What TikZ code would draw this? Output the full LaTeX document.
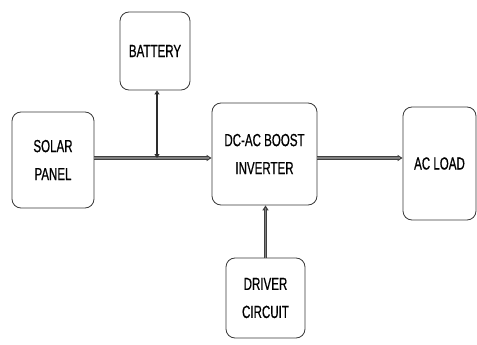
\documentclass[tikz,border=0pt]{standalone}
\usepackage{fontspec}
\setmainfont{Liberation Sans}[FakeStretch=0.66,FakeBold=0.6]
\usetikzlibrary{arrows.meta}

\begin{document}
\begin{tikzpicture}[x=1pt,y=-1pt,
  blockbox/.style={draw=gray!45!black,line width=0.8pt,rounded corners=9pt,fill=white,
    font=\fontsize{17.5}{28}\selectfont,align=center,inner sep=0pt},
  busline/.style={draw=gray!50!black,line width=4.5pt,-{Triangle[length=5pt,width=6pt]}},
  busfill/.style={draw=gray,line width=2pt,shorten >=3pt},
  tapline/.style={draw=gray!35!black,line width=2.6pt,{Triangle[length=4pt,width=5pt]}-{Triangle[length=4pt,width=5pt]}}]
\useasboundingbox (0,0) rectangle (477,345);
\node[blockbox,minimum width=70pt,minimum height=78pt] (battery) at (155,51) {BATTERY};
\node[blockbox,minimum width=82pt,minimum height=96pt] (solar) at (53,160) {SOLAR\\PANEL};
\node[blockbox,minimum width=105pt,minimum height=102pt] (inverter) at (264.5,154) {DC-AC BOOST\\INVERTER};
\node[blockbox,minimum width=73pt,minimum height=113pt] (load) at (439.5,163.5) {AC LOAD};
\node[blockbox,minimum width=79pt,minimum height=80pt] (driver) at (265.5,298) {DRIVER\\CIRCUIT};
\coordinate (jn) at (157,158);
\draw[busline] (solar.east |- jn) -- (inverter.west |- jn);
\draw[busfill] (solar.east |- jn) -- (inverter.west |- jn);
\draw[busline] (inverter.east |- jn) -- (load.west |- jn);
\draw[busfill] (inverter.east |- jn) -- (load.west |- jn);
\draw[tapline] (battery.south -| jn) -- (jn);
\draw[busline,line width=3.2pt] (driver.north) -- (driver.north |- inverter.south);
\draw[busfill,line width=1.2pt] (driver.north) -- (driver.north |- inverter.south);
\end{tikzpicture}
\end{document}
